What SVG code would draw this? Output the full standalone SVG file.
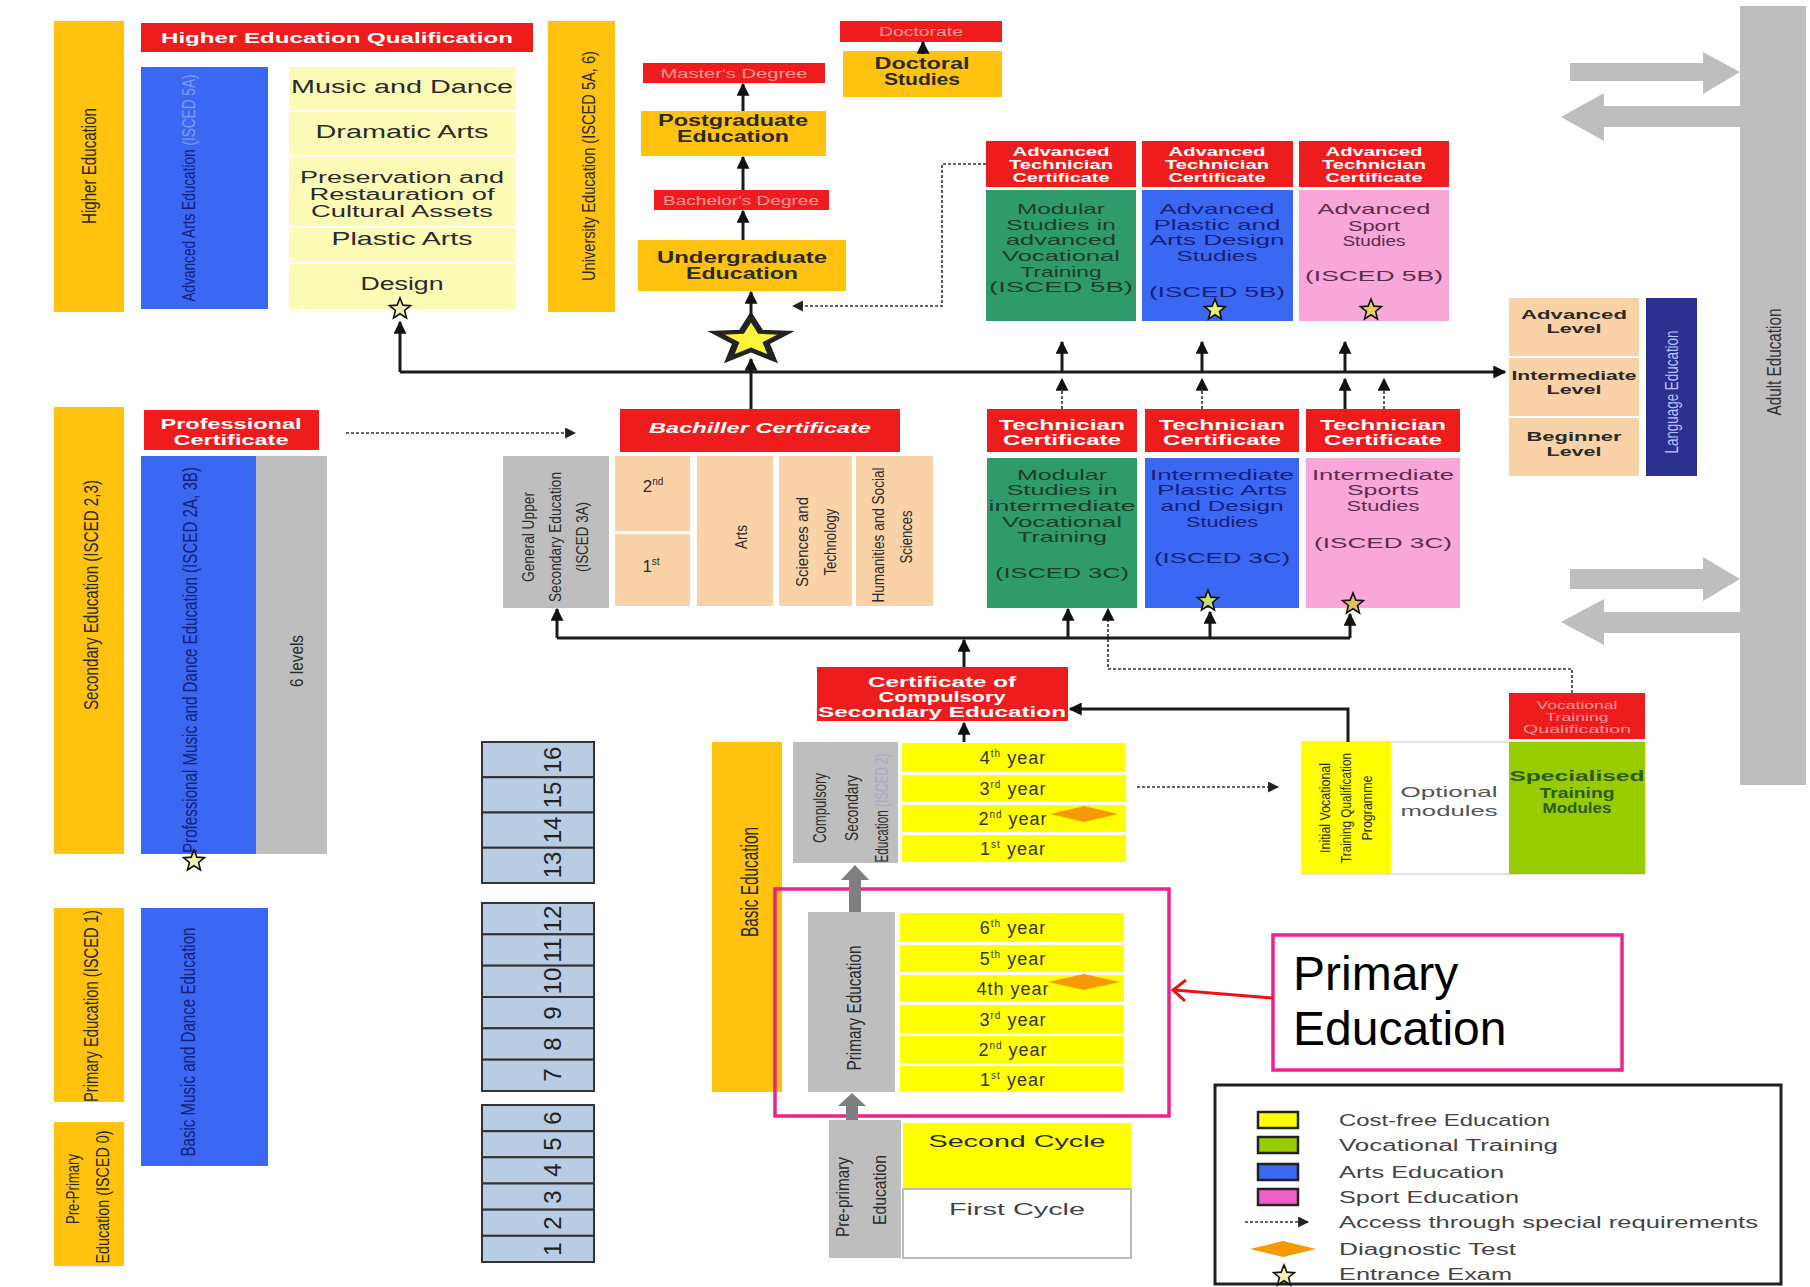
<svg xmlns="http://www.w3.org/2000/svg" xmlns:xlink="http://www.w3.org/1999/xlink" width="1810" height="1287" viewBox="0 0 1810 1287">
<style>
text { font-family: "Liberation Sans", Arial, sans-serif; }
.gold { fill: #FFC20E; }
.red { fill: #EE1C1C; }
.blue { fill: #3B68F2; }
.lyel { fill: #FBFBB6; }
.yel { fill: #FFFF00; }
.org { fill: #FAD2A8; }
.grn { fill: #2F9B6A; }
.pink { fill: #F9A6D8; }
.lime { fill: #99CC00; }
.gray { fill: #BEBEBE; }
.wb { fill: #ffffff; font-weight: bold; }
.fa { fill: #FF9A9A; }
.dk { fill: #2a2a2a; }
.nv { fill: #14207a; }
.gt { fill: #1d3d2c; }
.pt { fill: #5b2d4f; }
.lg { fill: #444; font-size: 16px; }
.num { fill: #222; font-size: 24px; }
.yr { fill: #333; font-size: 18px; letter-spacing: 1px; }
.ln { stroke: #1a1a1a; stroke-width: 3; fill: none; }
.dl { stroke: #333; stroke-width: 1.6; stroke-dasharray: 3 2; fill: none; }
.age { fill: #B8CCE4; stroke: #333; stroke-width: 2; }
.star { fill: #F4F0B0; stroke: #111; stroke-width: 1.6; }
.dia { fill: #F59A00; }
</style>
<defs>
<marker id="ah" viewBox="0 0 10 10" refX="9" refY="5" markerWidth="13" markerHeight="13" markerUnits="userSpaceOnUse" orient="auto"><path d="M0,0 L10,5 L0,10 z" fill="#111"/></marker>
<marker id="ahs" viewBox="0 0 10 10" refX="9" refY="5" markerWidth="11" markerHeight="11" markerUnits="userSpaceOnUse" orient="auto"><path d="M0,0 L10,5 L0,10 z" fill="#222"/></marker>
<path id="starp" d="M0,-11 L2.82,-3.88 L10.46,-3.4 L4.56,1.48 L6.47,8.9 L0,4.8 L-6.47,8.9 L-4.56,1.48 L-10.46,-3.4 L-2.82,-3.88Z"/>
</defs>
<rect width="1810" height="1287" fill="#ffffff"/>

<!-- Higher education block -->
<g id="higher-education">
<rect class="gold" x="54" y="21" width="70" height="291"/>
<text class="dk" font-size="20" text-anchor="middle" textLength="116" lengthAdjust="spacingAndGlyphs" transform="translate(96,166) rotate(-90)">Higher Education</text>
</g>
<g id="heq">
<rect class="red" x="141" y="23" width="392" height="29"/>
<text class="wb" x="337" y="43" font-size="15" text-anchor="middle" textLength="352" lengthAdjust="spacingAndGlyphs">Higher Education Qualification</text>
</g>
<g id="advanced-arts">
<rect class="blue" x="141" y="67" width="127" height="242"/>
<text class="nv" font-size="19" text-anchor="middle" textLength="227" lengthAdjust="spacingAndGlyphs" transform="translate(195,188) rotate(-90)">Advanced Arts Education <tspan fill="#7d9cf7">(ISCED 5A)</tspan></text>
</g>
<g id="arts-fields">
<rect class="lyel" x="289" y="67" width="227" height="43"/>
<rect class="lyel" x="289" y="112" width="227" height="43"/>
<rect class="lyel" x="289" y="157" width="227" height="69"/>
<rect class="lyel" x="289" y="228" width="227" height="34"/>
<rect class="lyel" x="289" y="264" width="227" height="45"/>
<text class="dk" x="402" y="93" font-size="18" text-anchor="middle" textLength="222" lengthAdjust="spacingAndGlyphs">Music and Dance</text>
<text class="dk" x="402" y="138" font-size="18" text-anchor="middle" textLength="173" lengthAdjust="spacingAndGlyphs">Dramatic Arts</text>
<text class="dk" x="402" y="183" font-size="16" text-anchor="middle" textLength="204" lengthAdjust="spacingAndGlyphs">Preservation and</text>
<text class="dk" x="402" y="200" font-size="16" text-anchor="middle" textLength="185" lengthAdjust="spacingAndGlyphs">Restauration of</text>
<text class="dk" x="402" y="217" font-size="16" text-anchor="middle" textLength="182" lengthAdjust="spacingAndGlyphs">Cultural Assets</text>
<text class="dk" x="402" y="245" font-size="18" text-anchor="middle" textLength="141" lengthAdjust="spacingAndGlyphs">Plastic Arts</text>
<text class="dk" x="402" y="290" font-size="18" text-anchor="middle" textLength="83" lengthAdjust="spacingAndGlyphs">Design</text>
<use href="#starp" class="star" transform="translate(400,309)"/>
</g>
<g id="university">
<rect class="gold" x="548" y="21" width="67" height="291"/>
<text class="dk" font-size="19" text-anchor="middle" textLength="230" lengthAdjust="spacingAndGlyphs" transform="translate(595,166) rotate(-90)">University Education (ISCED 5A, 6)</text>
</g>

<g id="doctorate">
<rect class="red" x="840" y="21" width="162" height="21"/>
<text class="fa" x="921" y="36" font-size="12" text-anchor="middle" textLength="84" lengthAdjust="spacingAndGlyphs">Doctorate</text>
</g>
<g id="doctoral-studies">
<rect class="gold" x="843" y="51" width="159" height="46"/>
<text class="dk" x="922" y="69" font-size="16" font-weight="bold" text-anchor="middle" textLength="95" lengthAdjust="spacingAndGlyphs">Doctoral</text>
<text class="dk" x="922" y="85" font-size="16" font-weight="bold" text-anchor="middle" textLength="76" lengthAdjust="spacingAndGlyphs">Studies</text>
</g>
<g id="masters">
<rect class="red" x="643" y="63" width="182" height="20"/>
<text class="fa" x="734" y="78" font-size="12" text-anchor="middle" textLength="147" lengthAdjust="spacingAndGlyphs">Master's Degree</text>
</g>
<g id="postgraduate">
<rect class="gold" x="641" y="111" width="185" height="45"/>
<text class="dk" x="733" y="126" font-size="16" font-weight="bold" text-anchor="middle" textLength="150" lengthAdjust="spacingAndGlyphs">Postgraduate</text>
<text class="dk" x="733" y="142" font-size="16" font-weight="bold" text-anchor="middle" textLength="112" lengthAdjust="spacingAndGlyphs">Education</text>
</g>
<g id="bachelors">
<rect class="red" x="654" y="190" width="175" height="20"/>
<text class="fa" x="741" y="205" font-size="12" text-anchor="middle" textLength="156" lengthAdjust="spacingAndGlyphs">Bachelor's Degree</text>
</g>
<g id="undergraduate">
<rect class="gold" x="638" y="240" width="208" height="51"/>
<text class="dk" x="742" y="263" font-size="16" font-weight="bold" text-anchor="middle" textLength="170" lengthAdjust="spacingAndGlyphs">Undergraduate</text>
<text class="dk" x="742" y="279" font-size="16" font-weight="bold" text-anchor="middle" textLength="112" lengthAdjust="spacingAndGlyphs">Education</text>
</g>
<g id="big-star">
<use href="#starp" fill="#FFF23A" stroke="#222" stroke-width="2" vector-effect="non-scaling-stroke" transform="translate(751,340) scale(3.35,2.1)"/>
</g>

<!-- Advanced technician -->
<g id="adv-tech-voc">
<rect class="red" x="986" y="141" width="150" height="46"/>
<text class="wb" x="1061" y="156" font-size="12" text-anchor="middle" textLength="97" lengthAdjust="spacingAndGlyphs">Advanced</text>
<text class="wb" x="1061" y="169" font-size="12" text-anchor="middle" textLength="104" lengthAdjust="spacingAndGlyphs">Technician</text>
<text class="wb" x="1061" y="182" font-size="12" text-anchor="middle" textLength="97" lengthAdjust="spacingAndGlyphs">Certificate</text>
<rect class="grn" x="986" y="190" width="150" height="131"/>
<text class="gt" x="1061" y="214" font-size="15" text-anchor="middle" textLength="88" lengthAdjust="spacingAndGlyphs">Modular</text>
<text class="gt" x="1061" y="230" font-size="15" text-anchor="middle" textLength="110" lengthAdjust="spacingAndGlyphs">Studies in</text>
<text class="gt" x="1061" y="245" font-size="15" text-anchor="middle" textLength="110" lengthAdjust="spacingAndGlyphs">advanced</text>
<text class="gt" x="1061" y="261" font-size="15" text-anchor="middle" textLength="118" lengthAdjust="spacingAndGlyphs">Vocational</text>
<text class="gt" x="1061" y="277" font-size="15" text-anchor="middle" textLength="81" lengthAdjust="spacingAndGlyphs">Training</text>
<text class="gt" x="1061" y="292" font-size="15" text-anchor="middle" textLength="144" lengthAdjust="spacingAndGlyphs">(ISCED 5B)</text>
</g>
<g id="adv-tech-arts">
<rect class="red" x="1142" y="141" width="151" height="46"/>
<text class="wb" x="1217" y="156" font-size="12" text-anchor="middle" textLength="97" lengthAdjust="spacingAndGlyphs">Advanced</text>
<text class="wb" x="1217" y="169" font-size="12" text-anchor="middle" textLength="104" lengthAdjust="spacingAndGlyphs">Technician</text>
<text class="wb" x="1217" y="182" font-size="12" text-anchor="middle" textLength="97" lengthAdjust="spacingAndGlyphs">Certificate</text>
<rect class="blue" x="1142" y="190" width="151" height="131"/>
<text class="nv" x="1217" y="214" font-size="15" text-anchor="middle" textLength="115" lengthAdjust="spacingAndGlyphs">Advanced</text>
<text class="nv" x="1217" y="230" font-size="15" text-anchor="middle" textLength="127" lengthAdjust="spacingAndGlyphs">Plastic and</text>
<text class="nv" x="1217" y="245" font-size="15" text-anchor="middle" textLength="135" lengthAdjust="spacingAndGlyphs">Arts Design</text>
<text class="nv" x="1217" y="261" font-size="15" text-anchor="middle" textLength="81" lengthAdjust="spacingAndGlyphs">Studies</text>
<text class="nv" x="1217" y="297" font-size="15" text-anchor="middle" textLength="136" lengthAdjust="spacingAndGlyphs">(ISCED 5B)</text>
<use href="#starp" fill="#E8F07A" stroke="#111" stroke-width="1.6" transform="translate(1215,310)"/>
</g>
<g id="adv-tech-sport">
<rect class="red" x="1299" y="141" width="150" height="46"/>
<text class="wb" x="1374" y="156" font-size="12" text-anchor="middle" textLength="97" lengthAdjust="spacingAndGlyphs">Advanced</text>
<text class="wb" x="1374" y="169" font-size="12" text-anchor="middle" textLength="104" lengthAdjust="spacingAndGlyphs">Technician</text>
<text class="wb" x="1374" y="182" font-size="12" text-anchor="middle" textLength="97" lengthAdjust="spacingAndGlyphs">Certificate</text>
<rect class="pink" x="1299" y="190" width="150" height="131"/>
<text class="pt" x="1374" y="214" font-size="15" text-anchor="middle" textLength="113" lengthAdjust="spacingAndGlyphs">Advanced</text>
<text class="pt" x="1374" y="231" font-size="15" text-anchor="middle" textLength="52" lengthAdjust="spacingAndGlyphs">Sport</text>
<text class="pt" x="1374" y="246" font-size="15" text-anchor="middle" textLength="63" lengthAdjust="spacingAndGlyphs">Studies</text>
<text class="pt" x="1374" y="281" font-size="15" text-anchor="middle" textLength="138" lengthAdjust="spacingAndGlyphs">(ISCED 5B)</text>
<use href="#starp" fill="#E8D060" stroke="#111" stroke-width="1.6" transform="translate(1371,310)"/>
</g>

<!-- Language & adult -->
<g id="language-levels">
<rect class="org" x="1509" y="298" width="130" height="58"/>
<rect class="org" x="1509" y="358" width="130" height="58"/>
<rect class="org" x="1509" y="418" width="130" height="58"/>
<text class="dk" x="1574" y="319" font-size="13" font-weight="bold" text-anchor="middle" textLength="106" lengthAdjust="spacingAndGlyphs">Advanced</text>
<text class="dk" x="1574" y="333" font-size="13" font-weight="bold" text-anchor="middle" textLength="55" lengthAdjust="spacingAndGlyphs">Level</text>
<text class="dk" x="1574" y="380" font-size="13" font-weight="bold" text-anchor="middle" textLength="125" lengthAdjust="spacingAndGlyphs">Intermediate</text>
<text class="dk" x="1574" y="394" font-size="13" font-weight="bold" text-anchor="middle" textLength="55" lengthAdjust="spacingAndGlyphs">Level</text>
<text class="dk" x="1574" y="441" font-size="13" font-weight="bold" text-anchor="middle" textLength="95" lengthAdjust="spacingAndGlyphs">Beginner</text>
<text class="dk" x="1574" y="456" font-size="13" font-weight="bold" text-anchor="middle" textLength="55" lengthAdjust="spacingAndGlyphs">Level</text>
</g>
<g id="language-education">
<rect x="1646" y="298" width="51" height="178" fill="#2B2F8F"/>
<text fill="#b8c4ff" font-size="18" text-anchor="middle" textLength="123" lengthAdjust="spacingAndGlyphs" transform="translate(1678,392) rotate(-90)">Language Education</text>
</g>
<g id="adult-education">
<rect class="gray" x="1740" y="6" width="66" height="779"/>
<text fill="#333" font-size="20" text-anchor="middle" textLength="107" lengthAdjust="spacingAndGlyphs" transform="translate(1781,362) rotate(-90)">Adult Education</text>
<polygon class="gray" points="1570,63 1703,63 1703,52 1740,72 1703,94 1703,81 1570,81"/>
<polygon class="gray" points="1740,106 1604,106 1604,93 1561,117 1604,141 1604,127 1740,127"/>
<polygon class="gray" points="1570,569 1703,569 1703,557 1740,579 1703,601 1703,589 1570,589"/>
<polygon class="gray" points="1740,612 1604,612 1604,599 1561,622 1604,645 1604,633 1740,633"/>
</g>

<!-- Secondary left -->
<g id="secondary-education">
<rect class="gold" x="54" y="407" width="70" height="447"/>
<text class="dk" font-size="20" text-anchor="middle" textLength="230" lengthAdjust="spacingAndGlyphs" transform="translate(98,595) rotate(-90)">Secondary Education (ISCED 2,3)</text>
</g>
<g id="professional-certificate">
<rect class="red" x="144" y="410" width="175" height="40"/>
<text class="wb" x="231" y="429" font-size="14" text-anchor="middle" textLength="141" lengthAdjust="spacingAndGlyphs">Professional</text>
<text class="wb" x="231" y="445" font-size="14" text-anchor="middle" textLength="115" lengthAdjust="spacingAndGlyphs">Certificate</text>
</g>
<g id="professional-music">
<rect class="blue" x="141" y="456" width="115" height="398"/>
<text class="nv" font-size="20" text-anchor="middle" textLength="386" lengthAdjust="spacingAndGlyphs" transform="translate(197,660) rotate(-90)">Professional Music and Dance Education (ISCED 2A, 3B)</text>
<use href="#starp" class="star" transform="translate(194,861)"/>
</g>
<g id="six-levels">
<rect class="gray" x="256" y="456" width="71" height="398"/>
<text class="dk" font-size="19" text-anchor="middle" textLength="52" lengthAdjust="spacingAndGlyphs" transform="translate(303,661) rotate(-90)">6 levels</text>
</g>

<!-- Bachiller -->
<g id="bachiller-certificate">
<rect class="red" x="620" y="409" width="280" height="43"/>
<text class="wb" x="760" y="433" font-size="15" font-style="italic" text-anchor="middle" textLength="222" lengthAdjust="spacingAndGlyphs">Bachiller Certificate</text>
</g>
<g id="general-upper">
<rect class="gray" x="503" y="456" width="106" height="152"/>
<text class="dk" font-size="16" text-anchor="middle" textLength="90" lengthAdjust="spacingAndGlyphs" transform="translate(534,537) rotate(-90)">General Upper</text>
<text class="dk" font-size="16" text-anchor="middle" textLength="130" lengthAdjust="spacingAndGlyphs" transform="translate(561,537) rotate(-90)">Secondary Education</text>
<text class="dk" font-size="16" text-anchor="middle" textLength="70" lengthAdjust="spacingAndGlyphs" transform="translate(588,537) rotate(-90)">(ISCED 3A)</text>
</g>
<g id="bachiller-years">
<rect class="org" x="615" y="456" width="75" height="75"/>
<rect class="org" x="615" y="534" width="75" height="72"/>
<text class="dk" x="653" y="492" font-size="17" text-anchor="middle">2<tspan font-size="10" dy="-7">nd</tspan></text>
<text class="dk" x="651" y="572" font-size="17" text-anchor="middle">1<tspan font-size="10" dy="-7">st</tspan></text>
</g>
<g id="bachiller-arts">
<rect class="org" x="697" y="456" width="76" height="150"/>
<text class="dk" font-size="16" text-anchor="middle" textLength="24" lengthAdjust="spacingAndGlyphs" transform="translate(747,537) rotate(-90)">Arts</text>
</g>
<g id="bachiller-sciences">
<rect class="org" x="779" y="456" width="73" height="150"/>
<text class="dk" font-size="16" text-anchor="middle" textLength="90" lengthAdjust="spacingAndGlyphs" transform="translate(808,542) rotate(-90)">Sciences and</text>
<text class="dk" font-size="16" text-anchor="middle" textLength="67" lengthAdjust="spacingAndGlyphs" transform="translate(836,542) rotate(-90)">Technology</text>
</g>
<g id="bachiller-humanities">
<rect class="org" x="856" y="456" width="77" height="150"/>
<text class="dk" font-size="16" text-anchor="middle" textLength="135" lengthAdjust="spacingAndGlyphs" transform="translate(884,535) rotate(-90)">Humanities and Social</text>
<text class="dk" font-size="16" text-anchor="middle" textLength="53" lengthAdjust="spacingAndGlyphs" transform="translate(912,537) rotate(-90)">Sciences</text>
</g>

<!-- Technician -->
<g id="tech-voc">
<rect class="red" x="987" y="409" width="150" height="43"/>
<text class="wb" x="1062" y="430" font-size="14" text-anchor="middle" textLength="126" lengthAdjust="spacingAndGlyphs">Technician</text>
<text class="wb" x="1062" y="445" font-size="14" text-anchor="middle" textLength="118" lengthAdjust="spacingAndGlyphs">Certificate</text>
<rect class="grn" x="987" y="458" width="150" height="150"/>
<text class="gt" x="1062" y="480" font-size="15" text-anchor="middle" textLength="90" lengthAdjust="spacingAndGlyphs">Modular</text>
<text class="gt" x="1062" y="495" font-size="15" text-anchor="middle" textLength="111" lengthAdjust="spacingAndGlyphs">Studies in</text>
<text class="gt" x="1062" y="511" font-size="15" text-anchor="middle" textLength="147" lengthAdjust="spacingAndGlyphs">intermediate</text>
<text class="gt" x="1062" y="527" font-size="15" text-anchor="middle" textLength="120" lengthAdjust="spacingAndGlyphs">Vocational</text>
<text class="gt" x="1062" y="542" font-size="15" text-anchor="middle" textLength="90" lengthAdjust="spacingAndGlyphs">Training</text>
<text class="gt" x="1062" y="578" font-size="15" text-anchor="middle" textLength="134" lengthAdjust="spacingAndGlyphs">(ISCED 3C)</text>
</g>
<g id="tech-arts">
<rect class="red" x="1145" y="409" width="154" height="43"/>
<text class="wb" x="1222" y="430" font-size="14" text-anchor="middle" textLength="126" lengthAdjust="spacingAndGlyphs">Technician</text>
<text class="wb" x="1222" y="445" font-size="14" text-anchor="middle" textLength="118" lengthAdjust="spacingAndGlyphs">Certificate</text>
<rect class="blue" x="1145" y="458" width="154" height="150"/>
<text class="nv" x="1222" y="480" font-size="15" text-anchor="middle" textLength="144" lengthAdjust="spacingAndGlyphs">Intermediate</text>
<text class="nv" x="1222" y="495" font-size="15" text-anchor="middle" textLength="130" lengthAdjust="spacingAndGlyphs">Plastic Arts</text>
<text class="nv" x="1222" y="511" font-size="15" text-anchor="middle" textLength="123" lengthAdjust="spacingAndGlyphs">and Design</text>
<text class="nv" x="1222" y="527" font-size="15" text-anchor="middle" textLength="72" lengthAdjust="spacingAndGlyphs">Studies</text>
<text class="nv" x="1222" y="563" font-size="15" text-anchor="middle" textLength="136" lengthAdjust="spacingAndGlyphs">(ISCED 3C)</text>
<use href="#starp" fill="#C8E070" stroke="#111" stroke-width="1.6" transform="translate(1208,601)"/>
</g>
<g id="tech-sport">
<rect class="red" x="1306" y="409" width="154" height="43"/>
<text class="wb" x="1383" y="430" font-size="14" text-anchor="middle" textLength="126" lengthAdjust="spacingAndGlyphs">Technician</text>
<text class="wb" x="1383" y="445" font-size="14" text-anchor="middle" textLength="118" lengthAdjust="spacingAndGlyphs">Certificate</text>
<rect class="pink" x="1306" y="458" width="154" height="150"/>
<text class="pt" x="1383" y="480" font-size="15" text-anchor="middle" textLength="142" lengthAdjust="spacingAndGlyphs">Intermediate</text>
<text class="pt" x="1383" y="495" font-size="15" text-anchor="middle" textLength="72" lengthAdjust="spacingAndGlyphs">Sports</text>
<text class="pt" x="1383" y="511" font-size="15" text-anchor="middle" textLength="73" lengthAdjust="spacingAndGlyphs">Studies</text>
<text class="pt" x="1383" y="548" font-size="15" text-anchor="middle" textLength="138" lengthAdjust="spacingAndGlyphs">(ISCED 3C)</text>
<use href="#starp" fill="#E0C060" stroke="#111" stroke-width="1.6" transform="translate(1353,604)"/>
</g>

<!-- Compulsory secondary -->
<g id="cert-compulsory">
<rect class="red" x="817" y="667" width="251" height="54"/>
<text class="wb" x="942" y="687" font-size="14" text-anchor="middle" textLength="148" lengthAdjust="spacingAndGlyphs">Certificate of</text>
<text class="wb" x="942" y="702" font-size="14" text-anchor="middle" textLength="127" lengthAdjust="spacingAndGlyphs">Compulsory</text>
<text class="wb" x="942" y="717" font-size="14" text-anchor="middle" textLength="248" lengthAdjust="spacingAndGlyphs">Secondary Education</text>
</g>
<g id="basic-education">
<rect class="gold" x="712" y="742" width="70" height="350"/>
<text class="dk" font-size="23" text-anchor="middle" textLength="110" lengthAdjust="spacingAndGlyphs" transform="translate(758,882) rotate(-90)">Basic Education</text>
</g>
<g id="compulsory-secondary">
<rect class="gray" x="793" y="742" width="105" height="121"/>
<text class="dk" font-size="18" text-anchor="middle" textLength="70" lengthAdjust="spacingAndGlyphs" transform="translate(826,808) rotate(-90)">Compulsory</text>
<text class="dk" font-size="18" text-anchor="middle" textLength="66" lengthAdjust="spacingAndGlyphs" transform="translate(858,808) rotate(-90)">Secondary</text>
<text class="dk" font-size="18" text-anchor="middle" textLength="109" lengthAdjust="spacingAndGlyphs" transform="translate(888,808) rotate(-90)">Education <tspan fill="#a7a9cc">(ISCED 2)</tspan></text>
<rect class="yel" x="902" y="743" width="224" height="29"/>
<rect class="yel" x="902" y="775" width="224" height="27"/>
<rect class="yel" x="902" y="805" width="224" height="27"/>
<rect class="yel" x="902" y="835" width="224" height="27"/>
<text class="yr" x="1013" y="764" text-anchor="middle">4<tspan font-size="10" dy="-7">th</tspan><tspan dy="7"> year</tspan></text>
<text class="yr" x="1013" y="795" text-anchor="middle">3<tspan font-size="10" dy="-7">rd</tspan><tspan dy="7"> year</tspan></text>
<text class="yr" x="1013" y="825" text-anchor="middle">2<tspan font-size="10" dy="-7">nd</tspan><tspan dy="7"> year</tspan></text>
<text class="yr" x="1013" y="855" text-anchor="middle">1<tspan font-size="10" dy="-7">st</tspan><tspan dy="7"> year</tspan></text>
<polygon class="dia" points="1050,814 1084,806 1118,814 1084,822"/>
</g>
<g id="primary-education">
<rect class="gray" x="808" y="912" width="87" height="180"/>
<text class="dk" font-size="21" text-anchor="middle" textLength="125" lengthAdjust="spacingAndGlyphs" transform="translate(861,1008) rotate(-90)">Primary Education</text>
<rect class="yel" x="900" y="913" width="224" height="29"/>
<rect class="yel" x="900" y="945" width="224" height="27"/>
<rect class="yel" x="900" y="975" width="224" height="27"/>
<rect class="yel" x="900" y="1005" width="224" height="28"/>
<rect class="yel" x="900" y="1036" width="224" height="27"/>
<rect class="yel" x="900" y="1066" width="224" height="26"/>
<text class="yr" x="1013" y="934" text-anchor="middle">6<tspan font-size="10" dy="-7">th</tspan><tspan dy="7"> year</tspan></text>
<text class="yr" x="1013" y="965" text-anchor="middle">5<tspan font-size="10" dy="-7">th</tspan><tspan dy="7"> year</tspan></text>
<text class="yr" x="1013" y="995" text-anchor="middle">4th year</text>
<text class="yr" x="1013" y="1026" text-anchor="middle">3<tspan font-size="10" dy="-7">rd</tspan><tspan dy="7"> year</tspan></text>
<text class="yr" x="1013" y="1056" text-anchor="middle">2<tspan font-size="10" dy="-7">nd</tspan><tspan dy="7"> year</tspan></text>
<text class="yr" x="1013" y="1086" text-anchor="middle">1<tspan font-size="10" dy="-7">st</tspan><tspan dy="7"> year</tspan></text>
<polygon class="dia" points="1048,982 1084,974 1120,982 1084,990"/>
</g>
<g id="pre-primary">
<rect class="gray" x="829" y="1120" width="72" height="138"/>
<text class="dk" font-size="18" text-anchor="middle" textLength="80" lengthAdjust="spacingAndGlyphs" transform="translate(849,1197) rotate(-90)">Pre-primary</text>
<text class="dk" font-size="18" text-anchor="middle" textLength="70" lengthAdjust="spacingAndGlyphs" transform="translate(886,1190) rotate(-90)">Education</text>
<rect class="yel" x="903" y="1123" width="228" height="66"/>
<text class="dk" x="1017" y="1147" font-size="17" text-anchor="middle" textLength="177" lengthAdjust="spacingAndGlyphs">Second Cycle</text>
<rect x="903" y="1189" width="228" height="69" fill="#fff" stroke="#bbb" stroke-width="2"/>
<text fill="#444" x="1017" y="1215" font-size="17" text-anchor="middle" textLength="136" lengthAdjust="spacingAndGlyphs">First Cycle</text>
</g>

<!-- Vocational -->
<g id="vocational-qualification">
<rect class="red" x="1509" y="693" width="136" height="46"/>
<text class="fa" x="1577" y="709" font-size="11" text-anchor="middle" textLength="81" lengthAdjust="spacingAndGlyphs">Vocational</text>
<text class="fa" x="1577" y="721" font-size="11" text-anchor="middle" textLength="63" lengthAdjust="spacingAndGlyphs">Training</text>
<text class="fa" x="1577" y="733" font-size="11" text-anchor="middle" textLength="108" lengthAdjust="spacingAndGlyphs">Qualification</text>
</g>
<g id="initial-vocational">
<rect x="1302" y="742" width="343" height="132" fill="none" stroke="#e2e2e2" stroke-width="2"/>
<rect class="yel" x="1302" y="742" width="89" height="132"/>
<text class="dk" font-size="15" text-anchor="middle" textLength="90" lengthAdjust="spacingAndGlyphs" transform="translate(1330,808) rotate(-90)">Initial Vocational</text>
<text class="dk" font-size="15" text-anchor="middle" textLength="110" lengthAdjust="spacingAndGlyphs" transform="translate(1351,808) rotate(-90)">Training Qualification</text>
<text class="dk" font-size="15" text-anchor="middle" textLength="65" lengthAdjust="spacingAndGlyphs" transform="translate(1372,808) rotate(-90)">Programme</text>
</g>
<g id="optional-modules">
<text fill="#555" x="1449" y="797" font-size="15" text-anchor="middle" textLength="97" lengthAdjust="spacingAndGlyphs">Optional</text>
<text fill="#555" x="1449" y="816" font-size="15" text-anchor="middle" textLength="97" lengthAdjust="spacingAndGlyphs">modules</text>
</g>
<g id="specialised-modules">
<rect class="lime" x="1509" y="742" width="136" height="132"/>
<text fill="#2b5a1a" x="1577" y="781" font-size="15" font-weight="bold" text-anchor="middle" textLength="135" lengthAdjust="spacingAndGlyphs">Specialised</text>
<text fill="#2b5a1a" x="1577" y="798" font-size="15" font-weight="bold" text-anchor="middle" textLength="75" lengthAdjust="spacingAndGlyphs">Training</text>
<text fill="#2b5a1a" x="1577" y="813" font-size="15" font-weight="bold" text-anchor="middle" textLength="69" lengthAdjust="spacingAndGlyphs">Modules</text>
</g>

<!-- Lower left -->
<g id="primary-isced1">
<rect class="gold" x="54" y="908" width="70" height="194"/>
<text class="dk" font-size="20" text-anchor="middle" textLength="192" lengthAdjust="spacingAndGlyphs" transform="translate(98,1006) rotate(-90)">Primary Education (ISCED 1)</text>
</g>
<g id="pre-primary-isced0">
<rect class="gold" x="54" y="1122" width="70" height="144"/>
<text class="dk" font-size="18" text-anchor="middle" textLength="70" lengthAdjust="spacingAndGlyphs" transform="translate(79,1189) rotate(-90)">Pre-Primary</text>
<text class="dk" font-size="18" text-anchor="middle" textLength="133" lengthAdjust="spacingAndGlyphs" transform="translate(109,1197) rotate(-90)">Education (ISCED 0)</text>
</g>
<g id="basic-music">
<rect class="blue" x="141" y="908" width="127" height="258"/>
<text class="nv" font-size="20" text-anchor="middle" textLength="229" lengthAdjust="spacingAndGlyphs" transform="translate(195,1042) rotate(-90)">Basic Music and Dance Education</text>
</g>

<!-- Ages -->
<g id="ages-13-16">
<rect class="age" x="482" y="742" width="112" height="35.25"/>
<rect class="age" x="482" y="777.25" width="112" height="35.25"/>
<rect class="age" x="482" y="812.5" width="112" height="35.25"/>
<rect class="age" x="482" y="847.75" width="112" height="35.25"/>
<text class="num" text-anchor="middle" transform="translate(561,760) rotate(-90)">16</text>
<text class="num" text-anchor="middle" transform="translate(561,795) rotate(-90)">15</text>
<text class="num" text-anchor="middle" transform="translate(561,830) rotate(-90)">14</text>
<text class="num" text-anchor="middle" transform="translate(561,865) rotate(-90)">13</text>
</g>
<g id="ages-7-12">
<rect class="age" x="482" y="903" width="112" height="31.33"/>
<rect class="age" x="482" y="934.33" width="112" height="31.33"/>
<rect class="age" x="482" y="965.67" width="112" height="31.33"/>
<rect class="age" x="482" y="997" width="112" height="31.33"/>
<rect class="age" x="482" y="1028.33" width="112" height="31.33"/>
<rect class="age" x="482" y="1059.67" width="112" height="31.33"/>
<text class="num" text-anchor="middle" transform="translate(561,919) rotate(-90)">12</text>
<text class="num" text-anchor="middle" transform="translate(561,950) rotate(-90)">11</text>
<text class="num" text-anchor="middle" transform="translate(561,981) rotate(-90)">10</text>
<text class="num" text-anchor="middle" transform="translate(561,1013) rotate(-90)">9</text>
<text class="num" text-anchor="middle" transform="translate(561,1044) rotate(-90)">8</text>
<text class="num" text-anchor="middle" transform="translate(561,1075) rotate(-90)">7</text>
</g>
<g id="ages-1-6">
<rect class="age" x="482" y="1105" width="112" height="26.17"/>
<rect class="age" x="482" y="1131.17" width="112" height="26.17"/>
<rect class="age" x="482" y="1157.33" width="112" height="26.17"/>
<rect class="age" x="482" y="1183.5" width="112" height="26.17"/>
<rect class="age" x="482" y="1209.67" width="112" height="26.17"/>
<rect class="age" x="482" y="1235.83" width="112" height="26.17"/>
<text class="num" text-anchor="middle" transform="translate(561,1118) rotate(-90)">6</text>
<text class="num" text-anchor="middle" transform="translate(561,1144) rotate(-90)">5</text>
<text class="num" text-anchor="middle" transform="translate(561,1170) rotate(-90)">4</text>
<text class="num" text-anchor="middle" transform="translate(561,1197) rotate(-90)">3</text>
<text class="num" text-anchor="middle" transform="translate(561,1223) rotate(-90)">2</text>
<text class="num" text-anchor="middle" transform="translate(561,1249) rotate(-90)">1</text>
</g>

<!-- Highlight & callout -->
<g id="highlight">
<rect x="775" y="889" width="394" height="227" fill="none" stroke="#F0208C" stroke-width="3.5"/>
</g>
<g id="callout">
<rect x="1273" y="935" width="349" height="135" fill="#fff" stroke="#F0208C" stroke-width="3.5"/>
<text x="1293" y="990" font-size="48" fill="#000">Primary</text>
<text x="1293" y="1045" font-size="48" fill="#000">Education</text>
</g>

<!-- Legend -->
<g id="legend">
<rect x="1215" y="1085" width="566" height="199" fill="#fff" stroke="#222" stroke-width="3"/>
<rect x="1258" y="1112" width="40" height="16" fill="#FFFF00" stroke="#222" stroke-width="2.5"/>
<rect x="1258" y="1137" width="40" height="16" fill="#99CC00" stroke="#222" stroke-width="2.5"/>
<rect x="1258" y="1164" width="40" height="16" fill="#3B68F2" stroke="#222" stroke-width="2.5"/>
<rect x="1258" y="1189" width="40" height="16" fill="#F060C8" stroke="#222" stroke-width="2.5"/>
<line x1="1245" y1="1222" x2="1308" y2="1222" class="dl" marker-end="url(#ahs)"/>
<polygon class="dia" points="1250,1249 1283,1241 1316,1249 1283,1257"/>
<use href="#starp" class="star" transform="translate(1284,1276)"/>
<text class="lg" x="1339" y="1126" textLength="211" lengthAdjust="spacingAndGlyphs">Cost-free Education</text>
<text class="lg" x="1339" y="1151" textLength="219" lengthAdjust="spacingAndGlyphs">Vocational Training</text>
<text class="lg" x="1339" y="1178" textLength="165" lengthAdjust="spacingAndGlyphs">Arts Education</text>
<text class="lg" x="1339" y="1203" textLength="180" lengthAdjust="spacingAndGlyphs">Sport Education</text>
<text class="lg" x="1339" y="1228" textLength="419" lengthAdjust="spacingAndGlyphs">Access through special requirements</text>
<text class="lg" x="1339" y="1255" textLength="177" lengthAdjust="spacingAndGlyphs">Diagnostic Test</text>
<text class="lg" x="1339" y="1280" textLength="173" lengthAdjust="spacingAndGlyphs">Entrance Exam</text>
</g>

<!-- Connectors -->
<g id="connectors">
<line class="ln" x1="923" y1="54" x2="923" y2="42" marker-end="url(#ah)"/>
<line class="ln" x1="743" y1="111" x2="743" y2="84" marker-end="url(#ah)"/>
<line class="ln" x1="743" y1="190" x2="743" y2="157" marker-end="url(#ah)"/>
<line class="ln" x1="743" y1="240" x2="743" y2="211" marker-end="url(#ah)"/>
<line class="ln" x1="751" y1="318" x2="751" y2="292" marker-end="url(#ah)"/>
<line class="ln" x1="751" y1="409" x2="751" y2="359" marker-end="url(#ah)"/>
<line class="ln" x1="400" y1="372" x2="1505" y2="372" marker-end="url(#ah)"/>
<line class="ln" x1="400" y1="372" x2="400" y2="322" marker-end="url(#ah)"/>
<line class="ln" x1="1062" y1="372" x2="1062" y2="342" marker-end="url(#ah)"/>
<line class="ln" x1="1202" y1="372" x2="1202" y2="342" marker-end="url(#ah)"/>
<line class="ln" x1="1345" y1="372" x2="1345" y2="342" marker-end="url(#ah)"/>
<line class="dl" x1="1062" y1="409" x2="1062" y2="379" marker-end="url(#ah)"/>
<line class="dl" x1="1202" y1="409" x2="1202" y2="379" marker-end="url(#ah)"/>
<line class="ln" x1="1345" y1="409" x2="1345" y2="379" marker-end="url(#ah)"/>
<line class="dl" x1="1384" y1="409" x2="1384" y2="379" marker-end="url(#ah)"/>
<path class="dl" d="M986,164 H942 V306 H793" marker-end="url(#ahs)"/>
<line class="dl" x1="346" y1="433" x2="575" y2="433" marker-end="url(#ahs)"/>
<path class="ln" d="M557,638 H1350"/>
<line class="ln" x1="557" y1="638" x2="557" y2="609" marker-end="url(#ah)"/>
<line class="ln" x1="1068" y1="638" x2="1068" y2="609" marker-end="url(#ah)"/>
<line class="ln" x1="1210" y1="638" x2="1210" y2="612" marker-end="url(#ah)"/>
<line class="ln" x1="1350" y1="638" x2="1350" y2="614" marker-end="url(#ah)"/>
<line class="ln" x1="964" y1="667" x2="964" y2="640" marker-end="url(#ah)"/>
<path class="dl" d="M1572,693 V669 H1108 V609" marker-end="url(#ah)"/>
<path class="ln" d="M1348,742 V709 H1070" marker-end="url(#ah)"/>
<line class="ln" x1="964" y1="742" x2="964" y2="723" marker-end="url(#ah)"/>
<line class="dl" x1="1137" y1="787" x2="1278" y2="787" marker-end="url(#ahs)"/>
<polygon fill="#7f7f7f" points="849,912 849,880 841,880 855,865 869,880 861,880 861,912"/>
<polygon fill="#7f7f7f" points="846,1120 846,1106 838,1106 852,1093 866,1106 858,1106 858,1120"/>
<line x1="1273" y1="998" x2="1174" y2="990" stroke="#EE1111" stroke-width="3"/>
<polyline points="1186,980 1173,990 1185,1001" fill="none" stroke="#EE1111" stroke-width="3"/>
</g>
</svg>
